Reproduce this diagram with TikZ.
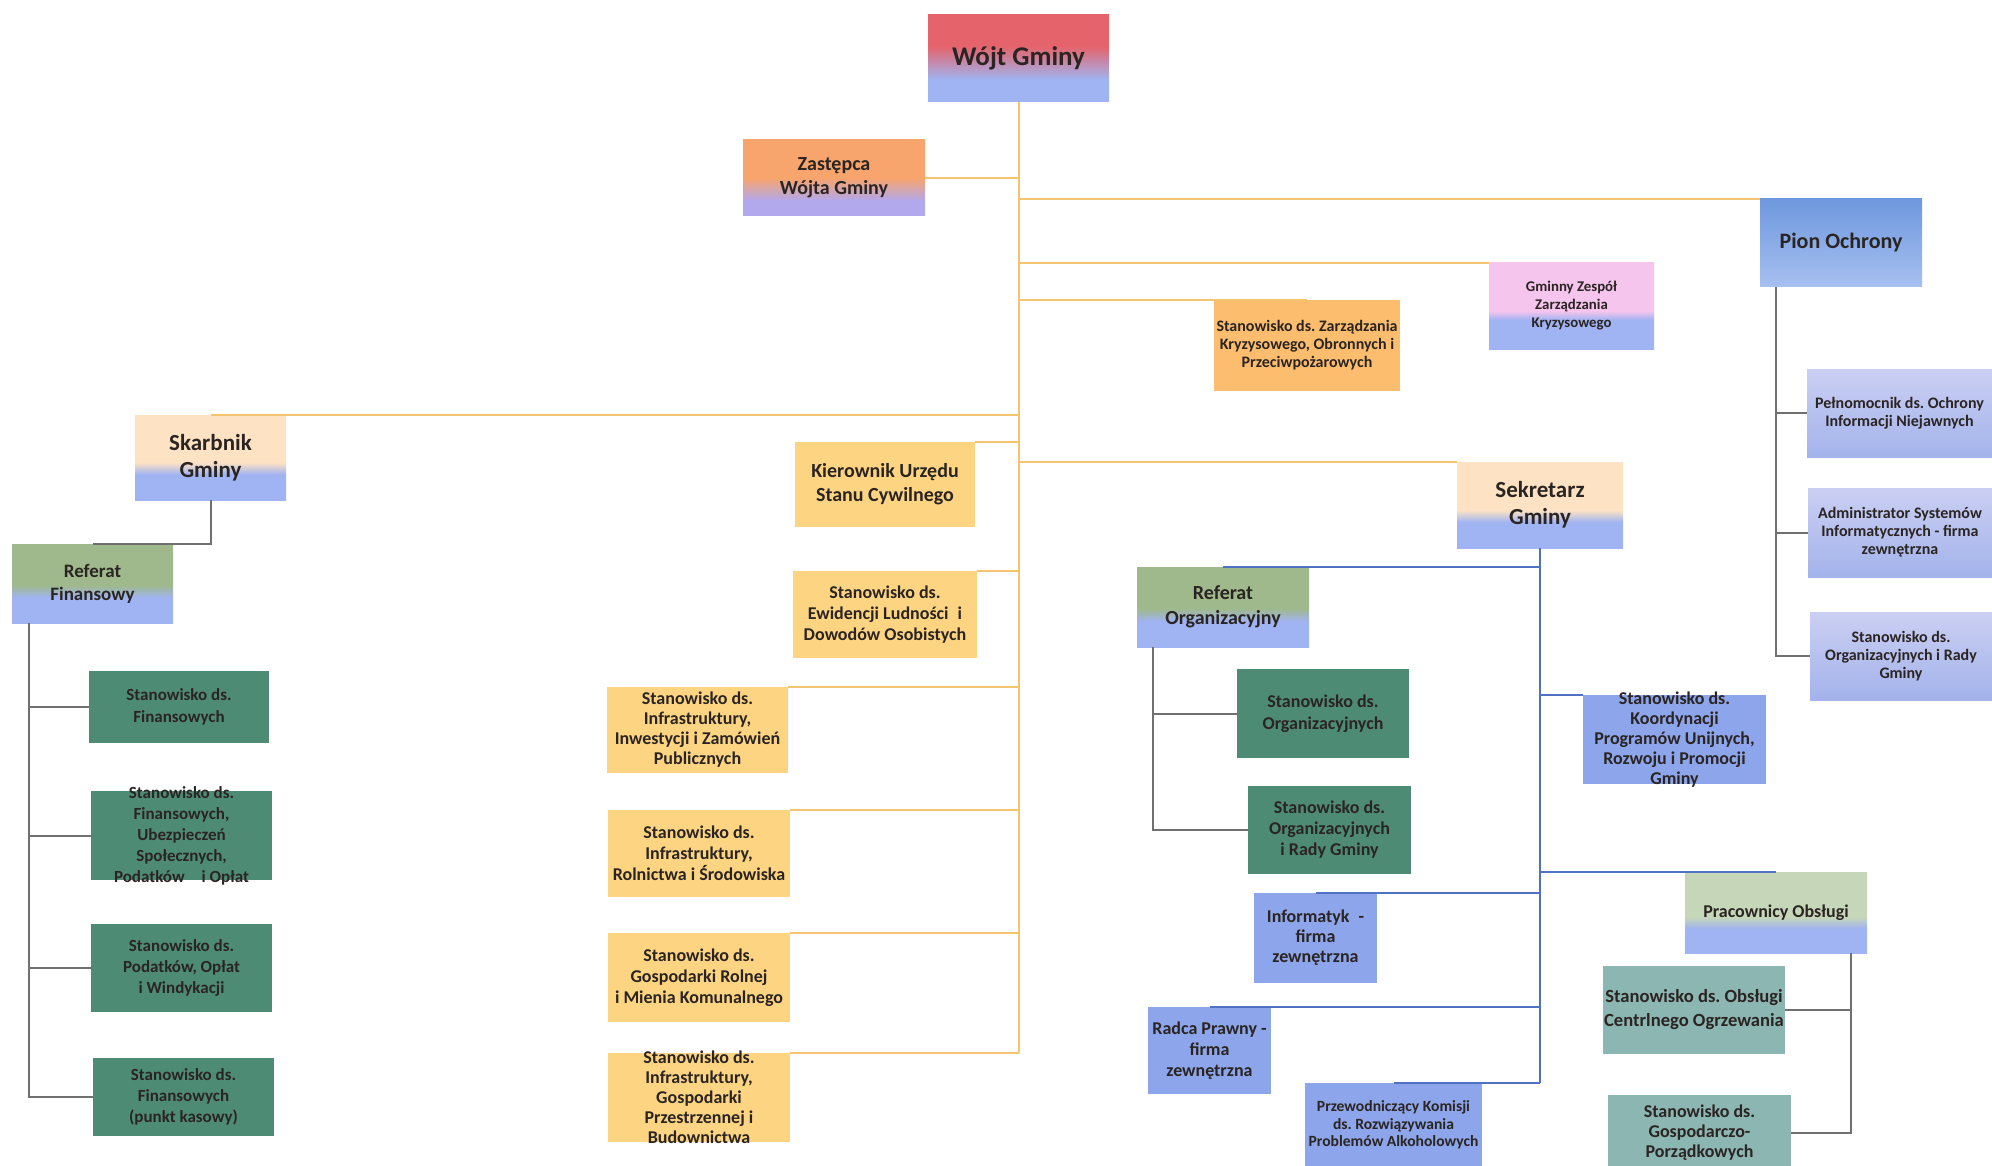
\documentclass[tikz,border=0pt]{standalone}
\usepackage{fontspec}
\setmainfont{Carlito}
\usepackage{tikz}
\frenchspacing

\definecolor{ink}{HTML}{2A2422}
\definecolor{wred}{HTML}{E5646B}
\definecolor{wblue}{HTML}{A0B3F2}
\definecolor{zorange}{HTML}{F7A46D}
\definecolor{zlav}{HTML}{B1A8EE}
\definecolor{cream}{HTML}{FDE3C3}
\definecolor{olive}{HTML}{9FB98C}
\definecolor{pink}{HTML}{F5C5EE}
\definecolor{piontop}{HTML}{6E98DE}
\definecolor{pionbot}{HTML}{A7C0F0}
\definecolor{lavtop}{HTML}{CBCFF3}
\definecolor{lavbot}{HTML}{A3B3EB}
\definecolor{pale}{HTML}{C6D6B9}
\definecolor{ostan}{HTML}{FDD482}
\definecolor{okryz}{HTML}{FDBD6E}
\definecolor{tealfin}{HTML}{4E8B75}
\definecolor{bluestan}{HTML}{8DA5EA}
\definecolor{greyteal}{HTML}{8CB6B2}
\definecolor{linorange}{HTML}{F5C46E}
\definecolor{linblue}{HTML}{4F72C4}
\definecolor{lingrey}{HTML}{707070}

% two colour vertical shadings: name, top, bottom, end of bottom, start of top
\newcommand{\twotone}[5]{\pgfdeclareverticalshading{#1}{100bp}{color(0bp)=(#3); color(#4bp)=(#3); color(#5bp)=(#2); color(100bp)=(#2)}}
\twotone{wojtshade}{wred}{wblue}{38}{57}
\twotone{zastshade}{zorange}{zlav}{35}{50}
\twotone{creamshade}{cream}{wblue}{40}{47}
\twotone{greenshade}{olive}{wblue}{41}{49}
\twotone{pinkshade}{pink}{wblue}{42}{47}
\twotone{pionshade}{piontop}{pionbot}{25}{75}
\twotone{lavshade}{lavtop}{lavbot}{25}{75}
\twotone{pracshade}{pale}{wblue}{40}{47}

% box from corner (x1,y1) to (x2,y2), in pixels
\newcommand{\unitbox}[7]{\node[unit, #1, minimum width={(#5-#3)*0.5pt}, minimum height={(#6-#4)*0.5pt}] (#2) at ({(#3+#5)/2},{(#4+#6)/2}) {#7};}

\tikzset{
  unit/.style={align=center, inner xsep=0pt, inner ysep=0pt, text=ink},
  fs/.style 2 args={font=\bfseries\fontsize{#1}{#2}\selectfont},
  oline/.style={draw=linorange, line width=1pt},
  bline/.style={draw=linblue, line width=1pt},
  gline/.style={draw=lingrey, line width=1pt},
}

\begin{document}
\begin{tikzpicture}[x=0.5pt, y=-0.5pt]
\useasboundingbox (0,0) rectangle (1992,1166);
\fill[white] (0,0) rectangle (1992,1166);

% head
\unitbox{shading=wojtshade, fs={13.5}{16}}{wojt}{928}{15}{1109}{102}{Wójt Gminy}
\unitbox{shading=zastshade, fs={10}{12}}{zast}{743}{140}{925}{216}{Zastępca\\Wójta Gminy}
\unitbox{shading=pionshade, fs={11}{13}}{pion}{1760}{199}{1922}{287}{Pion Ochrony}
\unitbox{shading=pinkshade, fs={7.4}{9}}{gzzk}{1489}{263}{1654}{349}{Gminny Zespół\\Zarządzania\\Kryzysowego}
\unitbox{fill=okryz, fs={8}{9}}{szk}{1214}{300}{1400}{391}{Stanowisko ds. Zarządzania\\Kryzysowego, Obronnych i\\Przeciwpożarowych}

% skarbnik
\unitbox{shading=creamshade, fs={11.5}{13.5}}{skarb}{135}{415}{286}{500}{Skarbnik\\Gminy}
\unitbox{shading=greenshade, fs={9.5}{11.5}}{reffin}{12}{544}{173}{623}{Referat\\Finansowy}
\unitbox{fill=tealfin, fs={8.5}{11}}{fin1}{89}{671}{269}{743}{Stanowisko ds.\\Finansowych}
\unitbox{fill=tealfin, fs={8.5}{10.5}, inner ysep=-3pt}{fin2}{91}{791}{272}{880}{Stanowisko ds.\\Finansowych,\\Ubezpieczeń\\Społecznych,\\Podatków\quad i Opłat}
\unitbox{fill=tealfin, fs={8.5}{10.5}}{fin3}{91}{924}{272}{1012}{Stanowisko ds.\\Podatków, Opłat\\i Windykacji}
\unitbox{fill=tealfin, fs={8.5}{10.5}}{fin4}{93}{1058}{274}{1136}{Stanowisko ds.\\Finansowych\\(punkt kasowy)}

% middle column
\unitbox{fill=ostan, fs={10}{12}}{kier}{795}{442}{975}{527}{Kierownik Urzędu\\Stanu Cywilnego}
\unitbox{fill=ostan, fs={9}{10.5}}{ewid}{793}{571}{977}{658}{Stanowisko ds.\\Ewidencji Ludności\enspace i\\Dowodów Osobistych}
\unitbox{fill=ostan, fs={9}{10}}{inf1}{607}{687}{788}{773}{Stanowisko ds.\\Infrastruktury,\\Inwestycji i Zamówień\\Publicznych}
\unitbox{fill=ostan, fs={9}{10.5}}{inf2}{608}{810}{790}{897}{Stanowisko ds.\\Infrastruktury,\\Rolnictwa i Środowiska}
\unitbox{fill=ostan, fs={9}{10.5}}{gosp}{608}{933}{790}{1022}{Stanowisko ds.\\Gospodarki Rolnej\\i Mienia Komunalnego}
\unitbox{fill=ostan, fs={9}{10}, inner ysep=-2pt}{inf3}{608}{1053}{790}{1142}{Stanowisko ds.\\Infrastruktury,\\Gospodarki\\Przestrzennej i\\Budownictwa}

% sekretarz
\unitbox{shading=creamshade, fs={11.5}{13.5}}{sek}{1457}{462}{1623}{548}{Sekretarz\\Gminy}
\unitbox{shading=greenshade, fs={10}{12.5}}{refor}{1137}{567}{1309}{647}{Referat\\Organizacyjny}
\unitbox{fill=tealfin, fs={9}{11}}{org1}{1237}{669}{1409}{758}{Stanowisko ds.\\Organizacyjnych}
\unitbox{fill=tealfin, fs={9}{10.5}}{org2}{1248}{786}{1411}{874}{Stanowisko ds.\\Organizacyjnych\\i Rady Gminy}
\unitbox{fill=bluestan, fs={9}{10}, inner ysep=-4pt}{koord}{1583}{695}{1766}{784}{Stanowisko ds.\\Koordynacji\\Programów Unijnych,\\Rozwoju i Promocji\\Gminy}
\unitbox{fill=bluestan, fs={9}{10}}{infor}{1254}{893}{1377}{983}{Informatyk\enspace -\\firma\\zewnętrzna}
\unitbox{fill=bluestan, fs={9}{10.5}}{radca}{1148}{1007}{1271}{1094}{Radca Prawny -\\firma\\zewnętrzna}
\unitbox{fill=bluestan, fs={7.8}{8.8}}{prz}{1305}{1083}{1482}{1167}{Przewodniczący Komisji\\ds. Rozwiązywania\\Problemów Alkoholowych}
\unitbox{shading=pracshade, fs={9}{11}}{prac}{1685}{872}{1867}{953}{Pracownicy Obsługi}
\unitbox{fill=greyteal, fs={9.3}{12}}{po1}{1603}{966}{1785}{1054}{Stanowisko ds. Obsługi\\Centrlnego Ogrzewania}
\unitbox{fill=greyteal, fs={9}{10}}{po2}{1608}{1095}{1791}{1170}{Stanowisko ds.\\Gospodarczo-\\Porządkowych}

% pion ochrony
\unitbox{shading=lavshade, fs={8}{9}}{p1}{1807}{369}{1992}{457}{Pełnomocnik ds. Ochrony\\Informacji Niejawnych}
\unitbox{shading=lavshade, fs={8}{9}}{p2}{1808}{488}{1992}{577}{Administrator Systemów\\Informatycznych - firma\\zewnętrzna}
\unitbox{shading=lavshade, fs={8}{9}}{p3}{1810}{612}{1992}{700}{Stanowisko ds.\\Organizacyjnych i Rady\\Gminy}

% orange lines from the head
\draw[oline] (wojt.south) -- (wojt.south |- inf3.north east);
\draw[oline] (zast.east) -- (wojt.south |- zast.east);
\draw[oline] (wojt.south |- pion.north west) -- (pion.north west);
\draw[oline] (wojt.south |- gzzk.north west) -- (gzzk.north west);
\draw[oline] (wojt.south |- szk.north) -- (szk.north);
\draw[oline] (wojt.south |- skarb.north) -- (skarb.north);
\draw[oline] (wojt.south |- sek.north west) -- (sek.north west);
\foreach \n in {kier,ewid,inf1,inf2,gosp,inf3}
  \draw[oline] (\n.north east) -- (wojt.south |- \n.north east);

% skarbnik and referat finansowy
\draw[gline] (skarb.south) |- (reffin.north);
\coordinate (finbus) at ([xshift=8.5pt]reffin.south west);
\draw[gline] (finbus) |- (fin4.west);
\foreach \n in {fin1,fin2,fin3}
  \draw[gline] (finbus |- \n.west) -- (\n.west);

% pion ochrony
\coordinate (pionbus) at ([xshift=8pt]pion.south west);
\draw[gline] (pionbus) |- (p3.west);
\foreach \n in {p1,p2}
  \draw[gline] (pionbus |- \n.west) -- (\n.west);

% sekretarz
\draw[bline] (sek.south) -- (sek.south |- prz.north);
\draw[bline] (sek.south |- koord.north west) -- (koord.north west);
\foreach \n in {refor,prac,infor,radca,prz}
  \draw[bline] (\n.north) -- (sek.south |- \n.north);

% referat organizacyjny
\coordinate (orgbus) at ([xshift=8pt]refor.south west);
\draw[gline] (orgbus) |- (org2.west);
\draw[gline] (orgbus |- org1.west) -- (org1.west);

% pracownicy obslugi
\coordinate (pobus) at ([xshift=-8pt]prac.south east);
\draw[gline] (pobus) |- (po2.east);
\draw[gline] (pobus |- po1.east) -- (po1.east);
\end{tikzpicture}
\end{document}
